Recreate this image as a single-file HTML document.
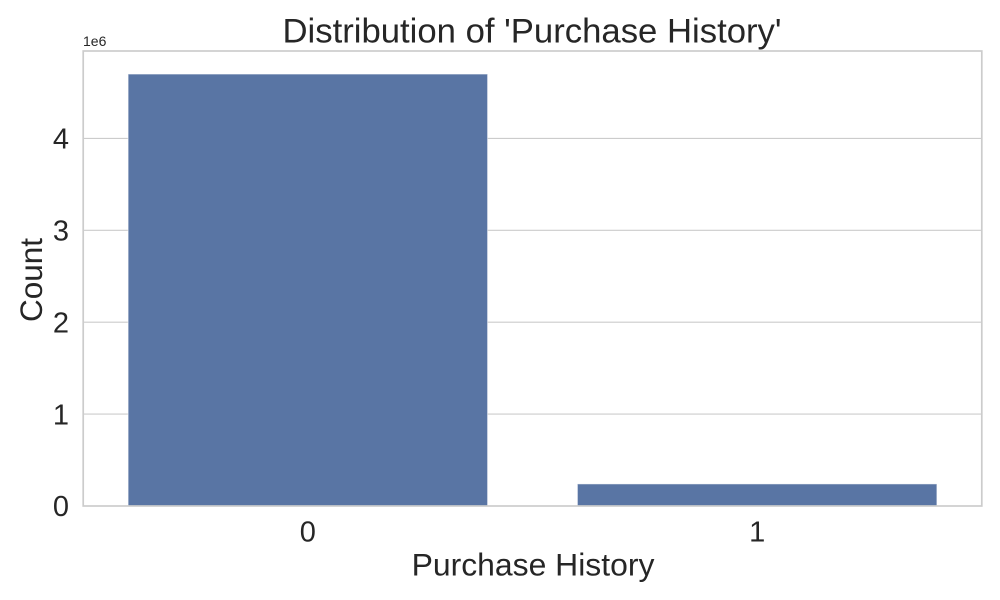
<!DOCTYPE html>
<html lang="en">
<head>
<meta charset="utf-8">
<title>Distribution of 'Purchase History'</title>
<style>
html,body{margin:0;padding:0;background:#fff;width:1000px;height:600px;overflow:hidden}
svg{display:block}
text{font-family:"Liberation Sans",Arial,sans-serif;fill:#262626}
</style>
</head>
<body>
<svg id="chart" width="1000" height="600" viewBox="0 0 1000 600" xmlns="http://www.w3.org/2000/svg"></svg>
<script>
const categories = ["0", "1"];
const counts = [4700000, 240000];
const yTicks = [0, 1000000, 2000000, 3000000, 4000000];
const yTickLabels = ["0", "1", "2", "3", "4"];
const titleText = "Distribution of 'Purchase History'";
const xTitleText = "Purchase History";
const yTitleText = "Count";
const offsetText = "1e6";

const NS = "http://www.w3.org/2000/svg";
const svg = document.getElementById("chart");
const plot = {left: 83.2, right: 981.8, top: 51, bottom: 506};
const yMax = (plot.bottom - plot.top) / 91.9 * 1000000;
const bandWidth = (plot.right - plot.left) / categories.length;
const barFraction = 0.8;

function xScale(i) { return plot.left + bandWidth * (i + 0.5); }
function yScale(v) { return plot.bottom - (v / yMax) * (plot.bottom - plot.top); }
function make(tag, attrs, text) {
  const el = document.createElementNS(NS, tag);
  for (const k in attrs) el.setAttribute(k, attrs[k]);
  if (text !== undefined) el.textContent = text;
  svg.appendChild(el);
  return el;
}

yTicks.forEach(function (t, i) {
  const y = yScale(t);
  if (t !== 0) {
    const grid = make("line", {x1: plot.left, x2: plot.right, y1: y, y2: y, stroke: "#cccccc", "stroke-width": 1.1});
    
    
  }
  const label = make("text", {x: 69, y: y + 10.2, "text-anchor": "end", "font-size": 29}, yTickLabels[i]);
  
  
});

counts.forEach(function (v, i) {
  const w = bandWidth * barFraction;
  const bar = make("rect", {x: xScale(i) - w / 2, y: yScale(v), width: w, height: plot.bottom - yScale(v), fill: "#5975a4", stroke: "#ffffff", "stroke-opacity": 0.5, "stroke-width": 1});
  
  
  const label = make("text", {x: xScale(i), y: 541.3, "text-anchor": "middle", "font-size": 29}, categories[i]);
  
  
});

const frame = make("rect", {x: plot.left, y: plot.top, width: plot.right - plot.left, height: plot.bottom - plot.top, fill: "none", stroke: "#cccccc", "stroke-width": 1.7});



const title = make("text", {x: 532, y: 42.5, "text-anchor": "middle", "font-size": 34.7}, titleText);



const xTitle = make("text", {x: 533, y: 575.5, "text-anchor": "middle", "font-size": 31.9}, xTitleText);



const yTitle = make("text", {x: 0, y: 0, "text-anchor": "middle", "font-size": 31.5, transform: "translate(42 280) rotate(-90)"}, yTitleText);



const offset = make("text", {x: 83, y: 46, "font-size": 14}, offsetText);


</script>
</body>
</html>
